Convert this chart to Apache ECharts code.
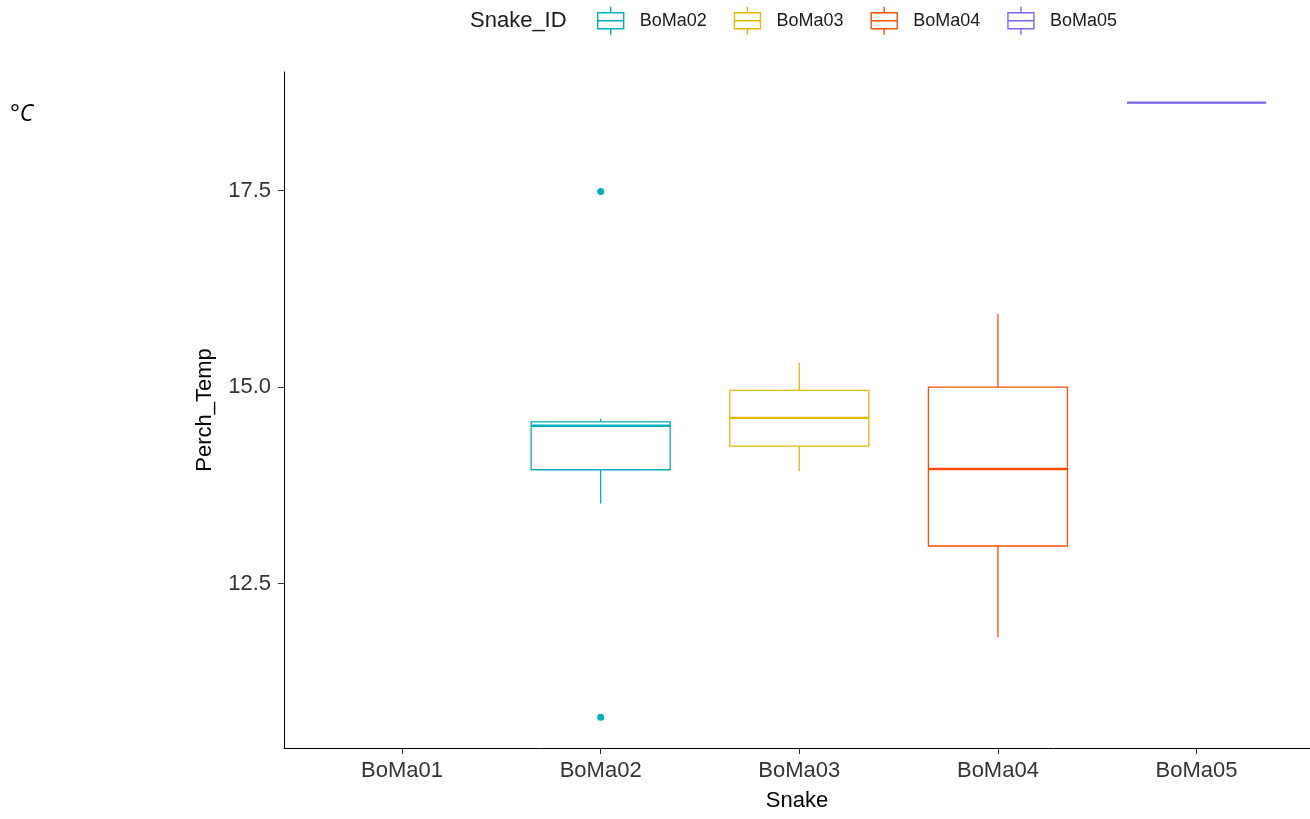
<!DOCTYPE html>
<html>
<head>
<meta charset="utf-8">
<script src="https://cdn.jsdelivr.net/npm/echarts@6/dist/echarts.min.js"></script>
<style>
html,body{margin:0;padding:0;background:#fff;}
#chart{width:1310px;height:819px;}
</style>
</head>
<body>
<div id="chart"></div>
<script>
// ---- data ----
const categories = ['BoMa01', 'BoMa02', 'BoMa03', 'BoMa04', 'BoMa05'];
const snakeIds = ['BoMa02', 'BoMa03', 'BoMa04', 'BoMa05'];
// [min whisker, Q1, median, Q3, max whisker]
const boMa02 = [13.52, 13.95, 14.51, 14.56, 14.60];
const boMa03 = [13.93, 14.25, 14.61, 14.96, 15.31];
const boMa04 = [11.82, 12.98, 13.96, 15.00, 15.93];
const boMa05 = [18.62, 18.62, 18.62, 18.62, 18.62];
const boMa02Outliers = [17.49, 10.80];
const yTicks = [12.5, 15.0, 17.5];

const snakeColors = ['#00AFBB', '#E7B800', '#FC4E07', '#7B68EE'];
const boxStats = [boMa02, boMa03, boMa04, boMa05];
const boxWidthUnits = 0.7;
const FONT = "'Liberation Sans', Arial, sans-serif";

const chart = echarts.init(document.getElementById('chart'), null, {renderer: 'canvas'});

function renderBox(color) {
  return function (params, api) {
    const x = api.value(0);
    const lo = api.coord([x, api.value(1)]);
    const q1 = api.coord([x, api.value(2)]);
    const md = api.coord([x, api.value(3)]);
    const q3 = api.coord([x, api.value(4)]);
    const hi = api.coord([x, api.value(5)]);
    const half = api.size([boxWidthUnits, 0])[0] / 2;
    const cx = lo[0];
    return {
      type: 'group',
      children: [
        {type: 'line', shape: {x1: cx, y1: hi[1], x2: cx, y2: q3[1]}, style: {stroke: color, lineWidth: 1.3}},
        {type: 'line', shape: {x1: cx, y1: q1[1], x2: cx, y2: lo[1]}, style: {stroke: color, lineWidth: 1.3}},
        {type: 'rect', shape: {x: cx - half, y: q3[1], width: 2 * half, height: q1[1] - q3[1]},
          style: {fill: 'none', stroke: color, lineWidth: 1.3}},
        {type: 'line', shape: {x1: cx - half, y1: md[1], x2: cx + half, y2: md[1]}, style: {stroke: color, lineWidth: 2.4}}
      ]
    };
  };
}

const series = snakeIds.map(function (id, i) {
  const pos = categories.indexOf(id) + 1;
  return {
    name: id,
    type: 'custom',
    xAxisIndex: 0,
    yAxisIndex: 0,
    itemStyle: {color: snakeColors[i]},
    encode: {x: 0, y: [1, 2, 3, 4, 5]},
    renderItem: renderBox(snakeColors[i]),
    data: [[pos].concat(boxStats[i])],
    silent: true
  };
});

series.push({
  name: 'BoMa02',
  type: 'scatter',
  symbol: 'circle',
  symbolSize: 7,
  itemStyle: {color: snakeColors[0], opacity: 1},
  data: boMa02Outliers.map(function (v) { return [categories.indexOf('BoMa02') + 1, v]; }),
  silent: true
});

const legendIcon = 'path://M1,6 H27 V22 H1 Z M1,14 H27 M14,0 V6 M14,22 V28';

const option = {
  backgroundColor: '#ffffff',
  animation: false,
  grid: {left: 284, right: 0, top: 72, bottom: 71, containLabel: false},
  legend: {
    left: 597,
    top: 6,
    padding: 0,
    itemWidth: 28,
    itemHeight: 28,
    itemGap: 27,
    selectedMode: false,
    textStyle: {fontFamily: FONT, fontSize: 18, color: '#1a1a1a', padding: [0, 0, 0, 10]},
    data: snakeIds.map(function (id, i) {
      return {
        name: id,
        icon: legendIcon,
        itemStyle: {color: 'rgba(0,0,0,0)', borderColor: snakeColors[i], borderWidth: 1.4}
      };
    })
  },
  graphic: [
    {type: 'text', left: 470, top: 10, style: {text: 'Snake_ID', font: '22px ' + FONT, fill: '#1a1a1a'}},
    {type: 'text', left: 10, top: 103, style: {text: '°C', font: 'italic 23px "Open Sans", sans-serif', fill: '#000'}}
  ],
  xAxis: {
    type: 'value',
    min: 0.406,
    max: 5.571,
    name: 'Snake',
    nameLocation: 'middle',
    nameGap: 42,
    nameTextStyle: {fontFamily: FONT, fontSize: 22, color: '#000'},
    splitLine: {show: false},
    axisLine: {show: true, lineStyle: {color: '#000', width: 1}},
    axisTick: {show: true, length: 6, lineStyle: {color: '#333'}, customValues: [1, 2, 3, 4, 5]},
    axisLabel: {
      customValues: [1, 2, 3, 4, 5],
      margin: 12,
      fontFamily: FONT, fontSize: 22, color: '#333',
      formatter: function (v) { return categories[Math.round(v) - 1] || ''; }
    }
  },
  yAxis: {
    type: 'value',
    min: 10.41,
    max: 19.01,
    name: 'Perch_Temp',
    nameLocation: 'middle',
    nameGap: 68,
    nameTextStyle: {fontFamily: FONT, fontSize: 22, color: '#000'},
    splitLine: {show: false},
    axisLine: {show: true, lineStyle: {color: '#000', width: 1}},
    axisTick: {show: true, length: 6, lineStyle: {color: '#333'}, customValues: yTicks},
    axisLabel: {
      customValues: yTicks,
      margin: 13,
      fontFamily: FONT, fontSize: 22, color: '#333',
      formatter: function (v) { return v.toFixed(1); }
    }
  },
  series: series
};

chart.setOption(option);
</script>
</body>
</html>
